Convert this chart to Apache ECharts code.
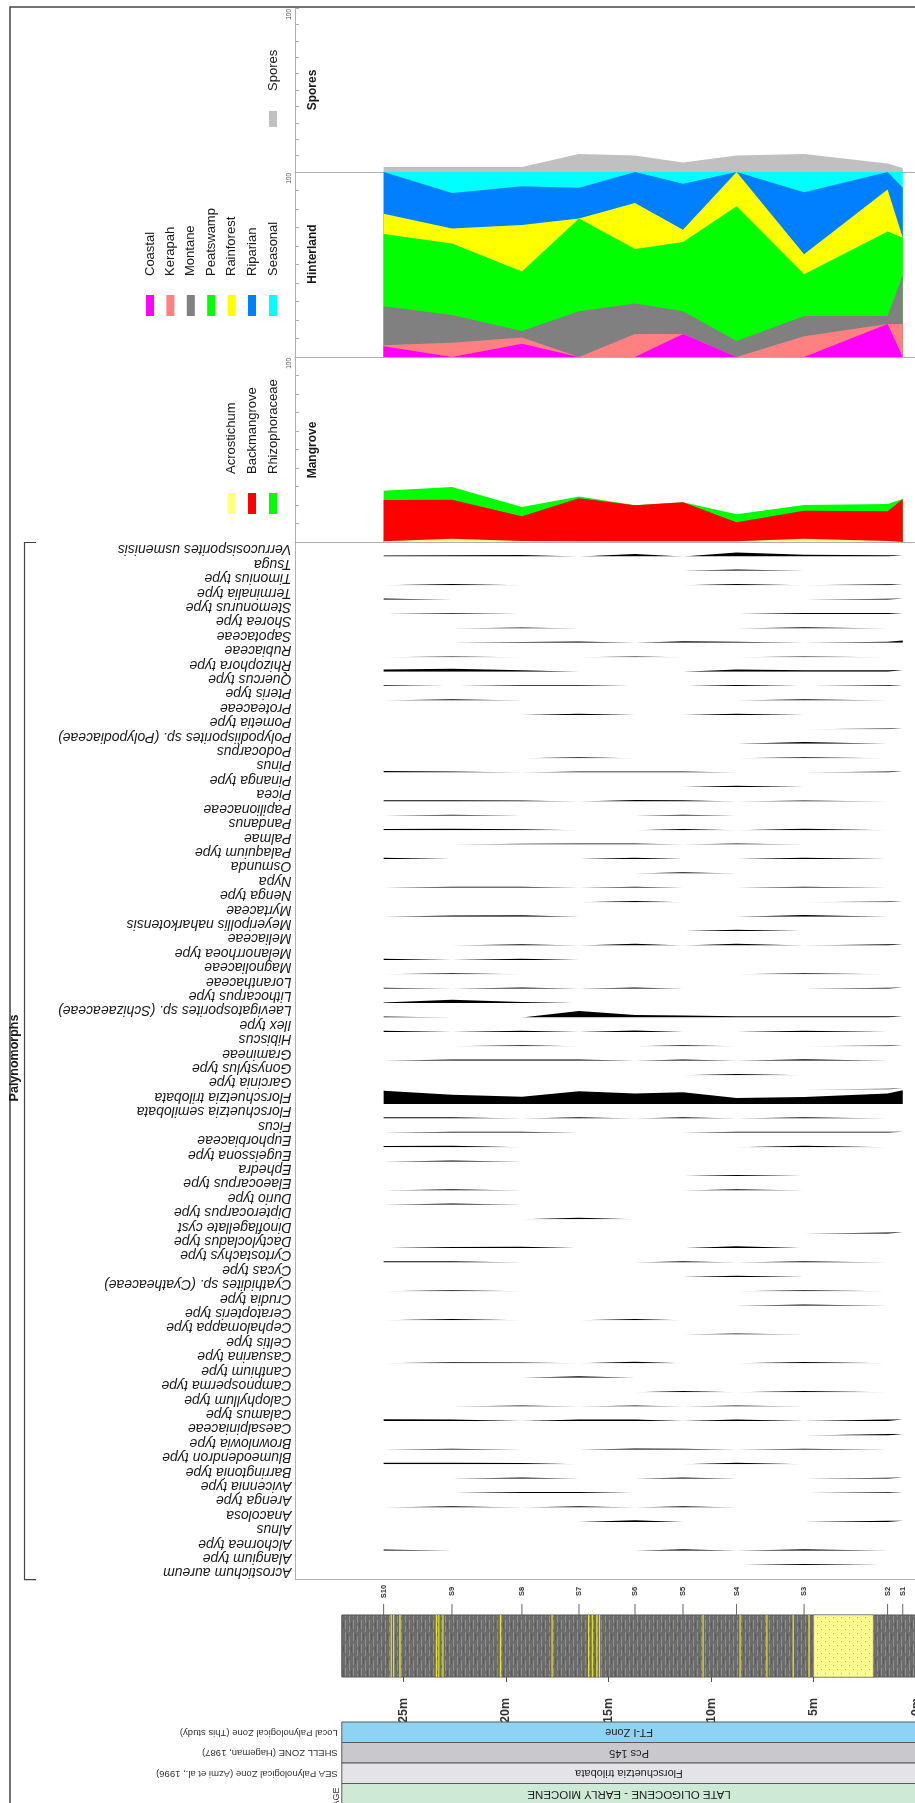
<!DOCTYPE html>
<html><head><meta charset="utf-8">
<script src="https://cdn.jsdelivr.net/npm/echarts@6/dist/echarts.min.js"></script>
<style>html,body{margin:0;padding:0;background:#fff}#c{width:915px;height:1803px}</style>
</head><body><div id="c"></div>
<script>
// ---------------- DATA ----------------
const samples = ['S10','S9','S8','S7','S6','S5','S4','S3','S2','S1'];
const sampleDepth = [25.96, 22.63, 19.22, 16.44, 13.71, 11.37, 8.76, 5.47, 1.40, 0.66]; // m
const depthTicks = [0, 5, 10, 15, 20, 25];

const sporesGroups = ['Spores'];
const spores = [3.1, 3.1, 3.1, 11, 10, 5.8, 10, 11, 5.2, 2.5];

const hinterlandGroups = ['Coastal','Kerapah','Montane','Peatswamp','Rainforest','Riparian','Seasonal'];
const coastal    = [5.8, 0, 7.1, 0, 0, 12.5, 0, 0, 17.9, 0];
const kerapah    = [0.5, 7.7, 3.5, 0, 12.5, 0, 0, 11.2, 0, 17.9];
const montane    = [21.1, 15, 3.5, 24.7, 16.4, 12.2, 8.7, 11, 4.3, 26.4];
const peatswamp  = [39.1, 38.6, 32.1, 50.1, 29.5, 37.5, 72.8, 22.5, 45.6, 20.2];
const rainforest = [11, 8.1, 25.1, 0, 24.8, 6.6, 18.5, 10.8, 22.8, 0];
const riparian   = [22.5, 19.2, 21, 16.7, 16.8, 24.8, 0, 33.5, 9.4, 27];
const seasonal   = [0, 11.4, 7.7, 8.5, 0, 6.4, 0, 11, 0, 8.5];

const mangroveGroups = ['Acrostichum','Backmangrove','Rhizophoraceae'];
const acrostichum    = [0.4, 1.8, 0.5, 0.4, 0.4, 0.4, 0.4, 1.8, 0.5, 0.4];
const backmangrove   = [22.3, 21, 13.4, 23.2, 19.4, 21.1, 10.3, 15.1, 16.1, 22.9];
const rhizophoraceae = [5, 6.9, 5, 1, 0, 0, 4.3, 3.1, 3.9, 0];

const taxa = ['Verrucosisporites usmenisis','Tsuga','Timonius type','Terminalia type','Stemonurus type','Shorea type','Sapotaceae','Rubiaceae','Rhizophora type','Quercus type','Pteris type','Proteaceae','Pometia type','Polypodiisporites sp. (Polypodiaceae)','Podocarpus','Pinus','Pinanga type','Picea','Papilionaceae','Pandanus','Palmae','Palaquium type','Osmunda','Nypa','Nenga type','Myrtaceae','Meyeripollis naharkotensis','Meliaceae','Melanorrhoea type','Magnoliaceae','Loranthaceae','Lithocarpus type','Laevigatosporites sp. (Schizaeaceae)','Ilex type','Hibiscus','Gramineae','Gonystylus type','Garcinia type','Florschuetzia trilobata','Florschuetzia semilobata','Ficus','Euphorbiaceae','Eugeissona type','Ephedra','Elaeocarpus type','Durio type','Dipterocarpus type','Dinoflagellate cyst','Dactylocladus type','Cyrtostachys type','Cycas type','Cyathidites sp. (Cyatheaceae)','Crudia type','Ceratopteris type','Cephalomappa type','Celtis type','Casuarina type','Canthium type','Campnosperma type','Calophyllum type','Calamus type','Caesalpiniaceae','Brownlowia type','Blumeodendron type','Barringtonia type','Avicennia type','Arenga type','Anacolosa','Alnus','Alchornea type','Alangium type','Acrostichum aureum'];

// values per taxon, samples S10 ... S1
const taxaValues = [
 [1.5,2,2.5,0,4,0,7,3,2,2],
 [0,0,0,0,0,0,2.5,0,0,0],
 [0,2,0,0,0,0,2,0,1.5,1.5],
 [2,0,0,0,0,0,0,0,1.5,2],
 [0,1.5,0,0,0,0,0,2,2,2],
 [0,0,1.5,0,0,0,0,2,0,0],
 [0,0,1.5,2.5,0,3,2,0,2,4],
 [0,1.5,0,0,1.5,0,0,1.5,0,0],
 [4,5,2.5,0,0,0,4,2.5,2.5,3],
 [1.5,0,1.5,1.5,0,0,2,0,1.5,2],
 [0,2,0,0,0,0,0,2,0,0],
 [0,0,0,2,0,0,2,0,0,0],
 [0,0,0,0,0,0,0,0,1.5,2],
 [0,0,0,0,0,0,0,3,0,0],
 [0,0,0,1.5,0,0,0,1.5,0,0],
 [2.5,2,0,2,2,2,0,0,2,2.5],
 [0,0,0,0,0,0,2,0,0,0],
 [2,2,1.5,0,2.5,2,0,1.5,0,2.5],
 [0,2,0,0,0,2,0,0,0,0],
 [2,2.5,1.5,0,0,2,0,2.5,0,2],
 [0,0,1.5,2,2,0,2,0,0,2],
 [2,0,0,0,2,0,0,2,0,0],
 [0,0,0,0,0,2,0,0,0,0],
 [0,2,2,0,2,0,0,2,0,0],
 [0,0,0,0,2,0,0,0,1.5,2],
 [0,2,2.5,0,0,0,0,3,0,0],
 [0,0,0,0,0,0,2.5,0,0,0],
 [0,0,2,0,3,0,3,0,2,2],
 [2,0,2,0,0,0,0,0,0,0],
 [0,2,0,0,0,0,0,2,0,0],
 [1.5,0,2,0,2,0,0,0,1.5,2],
 [1,6,2,0,0,0,0,0,0,2.5],
 [2,0,0,11.5,4.5,3.5,2.3,2.3,2.3,2.3],
 [2,0,2,0,2.5,0,0,2,0,2],
 [0,0,2,0,0,2,0,0,1.5,2],
 [0,2,2,2,0,2,0,2.5,0,2],
 [0,0,0,0,0,0,2,0,0,0],
 [0,0,0,0,0,0,0,0,1.5,2.5],
 [23,16,12.7,22,18,20.3,10.4,12.2,18,23.8],
 [2,2,0,2,0,2,0,2,0,2],
 [0,2,2,0,0,0,2,2,2,2],
 [2,2.5,0,0,0,0,0,2.5,0,0],
 [0,2,0,0,0,0,0,0,0,0],
 [0,0,0,0,0,0,2,0,0,0],
 [0,2,0,0,0,0,2,0,0,0],
 [0,2.5,0,0,0,0,0,0,0,0],
 [0,0,0,2.5,0,0,0,0,0,0],
 [0,0,0,0,0,0,0,0,2,2.5],
 [0,2,2.5,0,0,0,3,0,0,0],
 [2,2,0,0,0,2,0,2,0,2.5],
 [0,0,0,0,0,0,2,0,0,0],
 [0,2,0,0,0,0,0,2,0,0],
 [0,0,0,0,0,0,0,2,0,0],
 [0,2,0,0,2,0,0,0,0,2],
 [0,0,0,0,0,0,2,0,0,0],
 [0,0,0,0,0,0,0,0,0,2],
 [0,2,1.5,0,3,0,0,2.5,0,2],
 [0,0,0,2.5,0,0,0,0,0,0],
 [0,0,0,0,0,2,0,2,0,2.5],
 [0,0,2,0,2,0,2,0,0,0],
 [3,2.5,0,2.5,2.5,0,2.5,0,2.5,2.5],
 [0,0,0,0,0,0,0,0,2.5,2.5],
 [0,2,0,0,2.5,2,0,2,0,0],
 [2.5,2.5,2,0,0,0,2.5,0,0,0],
 [0,0,2,0,0,2,0,0,1.5,2],
 [0,0,2,2,0,0,0,0,1.5,2],
 [0,2,0,2,0,2,0,0,0,2],
 [0,0,0,0,3,0,0,0,2,2],
 [0,0,0,0,0,0,0,0,0,2],
 [2,0,0,0,0,2.5,0,2.5,0,0],
 [0,0,0,0,0,0,0,2,0,0],
 [0,0,0,0,0,0,0,0,0,2]
];

// lithology intervals: [from depth, to depth, kind]
const lithology = [
 [28, 0, 'mud'],
 [25.62, 25.56, 'stripe'], [25.5, 25.44, 'stripe'], [25.2, 25.13, 'stripe'],
 [23.42, 23.36, 'stripe'], [23.3, 23.24, 'stripe'], [23.1, 23.04, 'stripe'],
 [20.3, 20.23, 'stripe'], [17.78, 17.72, 'stripe'],
 [16.0, 15.94, 'stripe'], [15.82, 15.76, 'stripe'], [15.6, 15.54, 'stripe'], [15.47, 15.41, 'stripe'],
 [10.42, 10.36, 'stripe'], [8.62, 8.56, 'stripe'], [7.31, 7.25, 'stripe'],
 [6.03, 5.97, 'stripe'], [5.26, 5.2, 'stripe'],
 [5.0, 2.1, 'sand']
];

const zoneLabels = ['Local Palynological Zone (This study)','SHELL ZONE (Hageman, 1987)','SEA Palynological Zone (Azmi et al., 1996)','AGE'];
const zoneNames  = ['FT-I Zone','Pcs 145','Florschuetzia trilobata','LATE OLIGOCENE - EARLY MIOCENE'];
const zoneFrom = 28, zoneTo = 0;

// ---------------- STYLE / LAYOUT ----------------
const FONT = '"Liberation Sans", Arial, Helvetica, sans-serif';
const sporesColors = ['#c0c0c0'];
const hinterColors = ['#ff00ff','#ff8080','#808080','#00ff00','#ffff00','#0080ff','#00ffff'];
const mangColors = ['#ffff80','#ff0000','#00ff00'];
const zoneColors = ['#8fd3f2','#c9c9cd','#e4e4e8','#cfe9d7'];
const AXIS_GRAY = '#b0b0b0';

const X0 = 295, XW = 621.3, DMAX = 30.28;
const TAXA_TOP = 542, ROW_H = 14.41, TAXA_MAX = 25;
const LITH_TOP = 1615, LITH_H = 62;
const LITH_LEFT = X0 + (DMAX - 28) / DMAX * XW;
const LITH_W = X0 + XW - LITH_LEFT;
const BAND_TOP = 1722, BAND_H = 82;

const grids = [], xAxes = [], yAxes = [], series = [], graphics = [];

function addGrid(top, height, left, width, xo, yo) {
  const i = grids.length;
  grids.push({left: left, top: top, width: width, height: height, containLabel: false, outerBoundsMode: 'none'});
  xAxes.push(Object.assign({gridIndex: i, type: 'value', min: 0, max: DMAX, inverse: true, show: false,
    axisLine: {onZero: false}, splitLine: {show: false}}, xo || {}));
  yAxes.push(Object.assign({gridIndex: i, type: 'value', show: false,
    axisLine: {onZero: false}, splitLine: {show: false}}, yo || {}));
  return i;
}

const panelX = {show: true, axisLine: {show: true, onZero: false, lineStyle: {color: AXIS_GRAY, width: 1}},
  axisTick: {show: false}, axisLabel: {show: false}, splitLine: {show: false}};
const panelY = {show: true, min: 0, max: 100, interval: 10,
  axisLine: {show: true, onZero: false, lineStyle: {color: AXIS_GRAY, width: 1}},
  axisTick: {show: true, inside: true, length: 4, lineStyle: {color: AXIS_GRAY}},
  axisLabel: {show: false}, splitLine: {show: false}};

// cumulative stacked panel: each group drawn as its cumulative total, the highest first
function stackPanel(top, h, arrays, colors) {
  const gi = addGrid(top, h, X0, XW, panelX, panelY);
  const cum = [];
  arrays.forEach((arr, k) => cum.push(arr.map((v, j) => v + (k ? cum[k - 1][j] : 0))));
  for (let k = arrays.length - 1; k >= 0; k--) {
    series.push({type: 'line', xAxisIndex: gi, yAxisIndex: gi, symbol: 'none', silent: true, z: 2,
      lineStyle: {width: 0}, areaStyle: {color: colors[k], opacity: 1},
      data: sampleDepth.map((d, j) => [d, Math.min(100, +cum[k][j].toFixed(2))])});
  }
  graphics.push({type: 'text', x: 289, y: top + 1, rotation: Math.PI / 2, z: 10,
    style: {text: '100', font: '6.5px ' + FONT, fill: '#555', align: 'right', textAlign: 'right', verticalAlign: 'middle', textVerticalAlign: 'middle'}});
}

stackPanel(8, 164, [spores], sporesColors);
stackPanel(172, 185, [coastal, kerapah, montane, peatswamp, rainforest, riparian, seasonal], hinterColors);
stackPanel(357, 185, [acrostichum, backmangrove, rhizophoraceae], mangColors);

// taxa rows
taxa.forEach((name, i) => {
  const last = i === taxa.length - 1;
  const gi = addGrid(TAXA_TOP + i * ROW_H, ROW_H, X0, XW,
    last ? panelX : {show: false},
    {show: true, min: 0, max: TAXA_MAX, axisLine: {show: true, onZero: false, lineStyle: {color: AXIS_GRAY, width: 1}},
     axisTick: {show: false}, axisLabel: {show: false}, splitLine: {show: false}});
  series.push({type: 'line', xAxisIndex: gi, yAxisIndex: gi, symbol: 'none', silent: true, z: 3,
    lineStyle: {width: 0}, areaStyle: {color: '#000', opacity: 1},
    data: sampleDepth.map((d, j) => [d, taxaValues[i][j]])});
  graphics.push({type: 'text', x: 291.5, y: TAXA_TOP + (i + 0.5) * ROW_H, rotation: Math.PI,
    style: {text: name, font: 'italic 14px ' + FONT, fill: '#1a1a1a', align: 'left', textAlign: 'left', verticalAlign: 'middle', textVerticalAlign: 'middle'}});
});

// lithology patterns
function mudPattern() {
  const c = document.createElement('canvas'); c.width = 8; c.height = 24;
  const g = c.getContext('2d');
  g.fillStyle = '#6c6c6c'; g.fillRect(0, 0, 8, 24);
  g.strokeStyle = '#8e8e8e'; g.lineWidth = 1; g.beginPath();
  g.moveTo(1.5, 0); g.lineTo(1.5, 9); g.moveTo(1.5, 12); g.lineTo(1.5, 21);
  g.moveTo(5.5, 4); g.lineTo(5.5, 15); g.moveTo(5.5, 18); g.lineTo(5.5, 24);
  g.stroke();
  g.strokeStyle = '#5a5a5a'; g.beginPath();
  g.moveTo(3.5, 2); g.lineTo(3.5, 8); g.moveTo(7.5, 14); g.lineTo(7.5, 20);
  g.stroke();
  return c;
}
function sandPattern() {
  const c = document.createElement('canvas'); c.width = 8; c.height = 8;
  const g = c.getContext('2d');
  g.fillStyle = '#ffff8c'; g.fillRect(0, 0, 8, 8);
  g.fillStyle = '#b5b56a'; g.fillRect(1, 1, 1, 1); g.fillRect(5, 5, 1, 1);
  return c;
}
const lithStyle = {
  mud: {fill: {image: mudPattern(), repeat: 'repeat'}, stroke: '#555', lineWidth: 1},
  sand: {fill: {image: sandPattern(), repeat: 'repeat'}, stroke: '#777', lineWidth: 0.5},
  stripe: {fill: '#e6e41e', stroke: null}
};

const lithIdx = addGrid(LITH_TOP, LITH_H, LITH_LEFT, LITH_W, {
  show: true, max: 28, interval: 5,
  axisLine: {show: false, onZero: false},
  axisTick: {show: true, length: 5, customValues: depthTicks, lineStyle: {color: '#555'}},
  axisLabel: {show: true, customValues: depthTicks, rotate: 90, margin: 21, color: '#333',
    fontFamily: FONT, fontWeight: 'bold', fontSize: 12.5, hideOverlap: false,
    formatter: v => (depthTicks.indexOf(v) >= 0 ? v + 'm' : '')},
  splitLine: {show: false}
}, {min: 0, max: 1});

series.push({type: 'custom', xAxisIndex: lithIdx, yAxisIndex: lithIdx, silent: true,
  data: lithology.map(l => [l[0], l[1], l[2]]),
  renderItem: (params, api) => {
    const a = api.coord([api.value(0), 1]);
    const b = api.coord([api.value(1), 0]);
    const kind = lithology[params.dataIndex][2];
    return {type: 'rect', shape: {x: Math.min(a[0], b[0]), y: a[1], width: Math.abs(b[0] - a[0]), height: b[1] - a[1]},
      style: lithStyle[kind]};
  }});

series.push({type: 'custom', xAxisIndex: lithIdx, yAxisIndex: lithIdx, silent: true,
  data: sampleDepth.map((d, i) => [d, i]),
  renderItem: (params, api) => {
    const p = api.coord([api.value(0), 1]);
    return {type: 'group', children: [
      {type: 'line', shape: {x1: p[0], y1: p[1] - 11, x2: p[0], y2: p[1]}, style: {stroke: '#666', lineWidth: 1}},
      {type: 'text', x: p[0], y: p[1] - 23.5, rotation: Math.PI / 2,
       style: {text: samples[params.dataIndex], font: 'bold 7.5px ' + FONT, fill: '#333',
               align: 'center', textAlign: 'center', verticalAlign: 'middle', textVerticalAlign: 'middle'}}
    ]};
  }});

// zone bands
const bandIdx = addGrid(BAND_TOP, BAND_H, LITH_LEFT, LITH_W, {max: 28}, {min: 0, max: 4, inverse: true});
series.push({type: 'custom', xAxisIndex: bandIdx, yAxisIndex: bandIdx, silent: true,
  data: zoneNames.map((n, i) => [zoneFrom, zoneTo, i]),
  renderItem: (params, api) => {
    const i = params.dataIndex;
    const a = api.coord([api.value(0), i]);
    const b = api.coord([api.value(1), i + 1]);
    const cx = (a[0] + b[0]) / 2, cy = (a[1] + b[1]) / 2;
    const isAge = i === zoneNames.length - 1;
    return {type: 'group', children: [
      {type: 'rect', shape: {x: a[0], y: a[1], width: b[0] - a[0], height: b[1] - a[1]},
       style: {fill: zoneColors[i], stroke: '#5a5a5a', lineWidth: 1}},
      {type: 'text', x: cx, y: cy, rotation: Math.PI,
       style: {text: zoneNames[i], font: (isAge ? '11.5px ' : '11px ') + FONT, fill: '#222',
               align: 'center', textAlign: 'center', verticalAlign: 'middle', textVerticalAlign: 'middle'}},
      isAge ?
      {type: 'text', x: a[0] - 5, y: a[1] + 4, rotation: Math.PI / 2,
       style: {text: zoneLabels[i], font: '9px ' + FONT, fill: '#333',
               align: 'right', textAlign: 'right', verticalAlign: 'middle', textVerticalAlign: 'middle'}} :
      {type: 'text', x: a[0] - 4, y: cy, rotation: Math.PI,
       style: {text: zoneLabels[i], font: '9.5px ' + FONT, fill: '#333',
               align: 'left', textAlign: 'left', verticalAlign: 'middle', textVerticalAlign: 'middle'}}
    ]};
  }});

// ---------------- FRAME, TITLES, LEGENDS ----------------
graphics.push({type: 'rect', z: 10, shape: {x: 10, y: 7, width: 940, height: 1830}, style: {fill: 'none', stroke: '#444', lineWidth: 1.5}});
graphics.push({type: 'polyline', z: 10, shape: {points: [[36, 542.5], [24.5, 542.5], [24.5, 1579.6], [36, 1579.6]]},
  style: {fill: 'none', stroke: '#444', lineWidth: 1.2}});

function vtext(x, y, text, font, align) {
  graphics.push({type: 'text', x: x, y: y, rotation: Math.PI / 2, z: 10,
    style: {text: text, font: font, fill: '#1a1a1a', align: align, textAlign: align, verticalAlign: 'middle', textVerticalAlign: 'middle'}});
}
vtext(14.5, 1058, 'Palynomorphs', 'bold 12.5px ' + FONT, 'center');
vtext(313, 90, 'Spores', 'bold 12px ' + FONT, 'center');
vtext(313, 254, 'Hinterland', 'bold 12px ' + FONT, 'center');
vtext(313, 450, 'Mangrove', 'bold 12px ' + FONT, 'center');

function legend(names, colors, xs, swTop, swH, textBottom) {
  names.forEach((n, k) => {
    graphics.push({type: 'rect', z: 10, shape: {x: xs[k] - 4, y: swTop, width: 8, height: swH}, style: {fill: colors[k]}});
    vtext(xs[k], textBottom, n, '13px ' + FONT, 'left');
  });
}
legend(sporesGroups, sporesColors, [273], 111, 16, 91);
legend(hinterlandGroups, hinterColors, [150, 170.4, 190.8, 211.2, 231.6, 252, 273], 295, 21, 276);
legend(mangroveGroups, mangColors, [231.6, 252, 273], 493, 21, 474);

const chart = echarts.init(document.getElementById('c'), null, {renderer: 'canvas', width: 915, height: 1803});
chart.setOption({
  animation: false,
  textStyle: {fontFamily: FONT},
  grid: grids, xAxis: xAxes, yAxis: yAxes, series: series,
  graphic: {elements: graphics}
});
</script>
</body></html>
